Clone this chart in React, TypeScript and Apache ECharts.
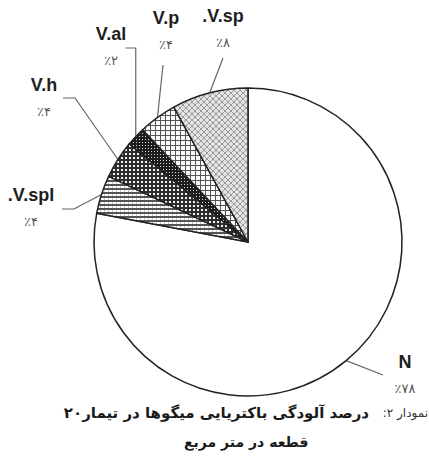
import React, { useEffect, useRef } from 'react';
import * as echarts from 'echarts';

// ---- data ----
const categories = ['N', '.V.spl', 'V.h', 'V.al', 'V.p', '.V.sp'];
const values = [78, 4, 4, 2, 4, 8];
const captionNumber = 'نمودار ۲:';
const captionLine1 = 'درصد آلودگی باکتریایی میگوها در تیمار۲۰';
const captionLine2 = 'قطعه در متر مربع';

const persianDigits = ['۰', '۱', '۲', '۳', '۴', '۵', '۶', '۷', '۸', '۹'];
const toPersian = (n: number) => String(n).replace(/[0-9]/g, (d) => persianDigits[Number(d)]);
const RLM = '\u200F';

// ---- layout (positions of labels and leader lines) ----
const CX = 248;
const CY = 242;
const R = 154;
type LabelCfg = { x: number; top: number; line: (s: number[]) => number[][] };
const labelCfg: LabelCfg[] = [
  { x: 405, top: 348, line: (s) => [s, [383, 375]] },
  { x: 31, top: 181, line: (s) => [s, [74, 209], [62, 209]] },
  { x: 44, top: 71, line: (s) => [s, [75, 98], [63, 98]] },
  { x: 111, top: 20, line: (s) => [s, [s[0], 48], [s[0] - 10, 48]] },
  { x: 166, top: 4, line: (s) => [s, [163, 65]] },
  { x: 223, top: 2, line: (s) => [s, [223, 58]] },
];

function makePattern(w: number, h: number, draw: (ctx: CanvasRenderingContext2D) => void) {
  const c = document.createElement('canvas');
  c.width = w;
  c.height = h;
  const ctx = c.getContext('2d')!;
  draw(ctx);
  return { image: c, repeat: 'repeat', imageWidth: w, imageHeight: h } as any;
}

function buildPatterns() {
  const white = '#ffffff';
  const sp = makePattern(6, 6, (ctx) => {
    ctx.fillStyle = '#e4e4e4';
    ctx.fillRect(0, 0, 6, 6);
    ctx.fillStyle = '#9a9a9a';
    for (let i = 0; i < 6; i++) {
      ctx.fillRect(i, i, 1, 1);
      ctx.fillRect(5 - i, i, 1, 1);
    }
  });
  const p = makePattern(5, 5, (ctx) => {
    ctx.fillStyle = '#fafafa';
    ctx.fillRect(0, 0, 5, 5);
    ctx.fillStyle = '#555';
    ctx.fillRect(0, 0, 5, 1);
    ctx.fillRect(0, 0, 1, 5);
  });
  const al = makePattern(3, 3, (ctx) => {
    ctx.fillStyle = '#1c1c1c';
    ctx.fillRect(0, 0, 3, 3);
    ctx.fillStyle = '#dddddd';
    ctx.fillRect(1, 1, 1, 1);
  });
  const h = makePattern(4, 4, (ctx) => {
    ctx.fillStyle = '#2e2e2e';
    ctx.fillRect(0, 0, 4, 4);
    ctx.fillStyle = '#f2f2f2';
    ctx.fillRect(1, 1, 2, 2);
  });
  const spl = makePattern(4, 4, (ctx) => {
    ctx.fillStyle = white;
    ctx.fillRect(0, 0, 4, 4);
    ctx.fillStyle = '#555';
    ctx.fillRect(0, 0, 4, 2);
    ctx.fillStyle = '#c8c8c8';
    ctx.fillRect(0, 2, 1, 2);
  });
  return [white, spl, h, al, p, sp];
}

export default function App() {
  const ref = useRef<HTMLDivElement>(null);
  useEffect(() => {
    if (!ref.current) return;
    const chart = echarts.init(ref.current, null, { renderer: 'svg' });
    const fills = buildPatterns();
    const total = values.reduce((a, b) => a + b, 0);
    const startPoint = (idx: number) => {
      let cum = 0;
      for (let i = 0; i < idx; i++) cum += values[i];
      const a = ((90 - (360 * (cum + values[idx] / 2)) / total) * Math.PI) / 180;
      return [CX + R * Math.cos(a), CY - R * Math.sin(a)];
    };
    chart.setOption({
      animation: false,
      backgroundColor: '#ffffff',
      title: [
        {
          text: captionNumber + RLM,
          right: 1,
          top: 407,
          padding: 0,
          textStyle: { fontFamily: 'DejaVu Sans', fontWeight: 'normal', fontSize: 12, color: '#333' },
        },
        {
          text: captionLine1,
          right: 60,
          top: 405,
          padding: 0,
          textStyle: { fontFamily: 'DejaVu Sans', fontWeight: 'bold', fontSize: 15, color: '#1a1a1a' },
        },
        {
          text: captionLine2,
          left: 184,
          top: 435,
          padding: 0,
          textStyle: { fontFamily: 'DejaVu Sans', fontWeight: 'bold', fontSize: 14, color: '#1a1a1a' },
        },
      ],
      series: [
        {
          type: 'pie',
          center: [CX, CY],
          radius: R,
          startAngle: 90,
          clockwise: true,
          avoidLabelOverlap: false,
          silent: true,
          emphasis: { disabled: true },
          itemStyle: { borderColor: '#222', borderWidth: 1.5 },
          label: {
            show: true,
            position: 'outside',
            formatter: (p: any) => `{n|${p.name}}\n{p|٪${toPersian(p.value)}}`,
            rich: {
              n: {
                fontFamily: 'Liberation Sans',
                fontWeight: 'bold',
                fontSize: 18,
                color: '#1e1e1e',
                lineHeight: 27,
                align: 'center',
              },
              p: {
                fontFamily: 'DejaVu Sans',
                fontSize: 13,
                color: '#555',
                lineHeight: 27,
                align: 'center',
              },
            },
          },
          labelLine: {
            show: true,
            length: 20,
            length2: 10,
            lineStyle: { color: '#666', width: 1.2 },
          },
          labelLayout: (params: any) => {
            const i = params.dataIndex;
            const cfg = labelCfg[i];
            const s =
              params.labelLinePoints && params.labelLinePoints[0]
                ? [params.labelLinePoints[0][0], params.labelLinePoints[0][1]]
                : startPoint(i);
            return {
              x: cfg.x,
              y: cfg.top,
              align: 'center',
              verticalAlign: 'top',
              labelLinePoints: cfg.line(s),
            };
          },
          data: categories.map((name, i) => ({
            name,
            value: values[i],
            itemStyle: { color: fills[i] },
          })),
        },
      ],
    });
    return () => chart.dispose();
  }, []);
  return (
    <div
      ref={ref}
      style={{ position: 'fixed', left: 0, top: 0, width: 429, height: 458, background: '#fff' }}
    />
  );
}
